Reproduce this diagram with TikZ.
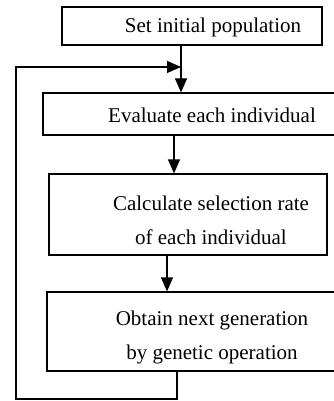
\documentclass[tikz,border=0pt]{standalone}
\usepackage{fontspec}
\setmainfont{Liberation Serif}
\usetikzlibrary{arrows.meta}
\tikzset{
    block/.style = {draw, rectangle, line width=1.2pt,
        inner sep=0pt},
    label/.style = {font=\fontsize{21pt}{34pt}\selectfont, align=center, inner sep=0pt},
    arrow/.style={draw, line width=1.2pt, -{Triangle[length=14pt,width=12pt]}}
}

\begin{document}
\begin{tikzpicture}[x=1pt,y=-1pt]
              \useasboundingbox (0,0) rectangle (333,401);
              % boxes
              \node [block, minimum width=260, minimum height=38] (init) at (192,26) {};
              \node [block, minimum width=293, minimum height=42] (eval) at (189.5,114) {};
              \node [block, minimum width=278, minimum height=81] (rate) at (188,214.5) {};
              \node [block, minimum width=289, minimum height=79] (oper) at (191.5,331.5) {};
              % texts
              \node [label] (initT) at (213,27) {Set initial population};
              \node [label] (evalT) at (212,115) {Evaluate each individual};
              \node [label] (rateT) at (211,220) {Calculate selection rate\\of each individual};
              \node [label] (operT) at (212,337) {Obtain next generation\\by genetic operation};
              % columns of the arrows
              \coordinate (col1) at (181,0);
              \coordinate (col2) at (174,0);
              \coordinate (col3) at (167,0);
              \coordinate (col4) at (177,0);
              \coordinate (back) at (16,399);
              \coordinate (join) at (181,67);
              \draw [arrow] (init.south -| col1) -- (eval.north -| col1);
              \draw [arrow] (eval.south -| col2) -- (rate.north -| col2);
              \draw [arrow] (rate.south -| col3) -- (oper.north -| col3);
              \draw [arrow] (oper.south -| col4) |- (back) |- (join);
            \end{tikzpicture}
\end{document}
